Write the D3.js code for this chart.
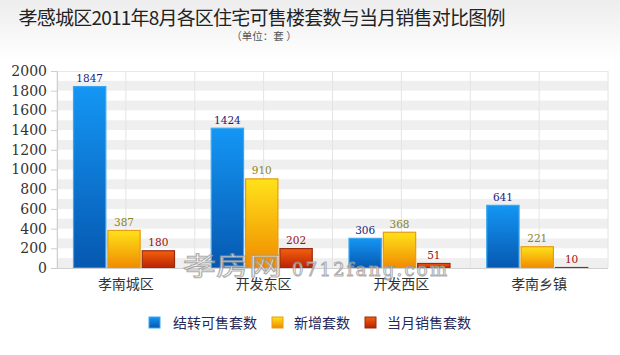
<!DOCTYPE html>
<html><head><meta charset="utf-8">
<script src="https://cdn.jsdelivr.net/npm/d3@7"></script>
<style>html,body{margin:0;padding:0;background:#fff;}svg{display:block;}</style>
</head><body>
<svg id="c" width="620" height="355"></svg>
<script>
const title = "孝感城区2011年8月各区住宅可售楼套数与当月销售对比图例";
const subtitle = "（单位：套 ）";
const categories = ["孝南城区", "开发东区", "开发西区", "孝南乡镇"];
const seriesNames = ["结转可售套数", "新增套数", "当月销售套数"];
const carryOver = [1847, 1424, 306, 641];
const newlyAdded = [387, 910, 368, 221];
const monthSales = [180, 202, 51, 10];
const yTicks = [0, 200, 400, 600, 800, 1000, 1200, 1400, 1600, 1800, 2000];

const seriesValues = [carryOver, newlyAdded, monthSales];
const colors = [
  {top:"#1496f4", bot:"#0658b0", stroke:"#3aa8f0", label:"#1c1c7a"},
  {top:"#ffe21a", bot:"#f08a00", stroke:"#e89a10", label:"#8a8420"},
  {top:"#f4600c", bot:"#b82206", stroke:"#9a2a10", label:"#9a1010"}
];

const svg = d3.select("#c");
const defs = svg.append("defs");
const bg = defs.append("linearGradient").attr("id","bg").attr("x1",0).attr("y1",0).attr("x2",0).attr("y2",1);
bg.append("stop").attr("offset","0%").attr("stop-color","#ededed");
bg.append("stop").attr("offset","100%").attr("stop-color","#ffffff");
colors.forEach((c,i)=>{
  const g = defs.append("linearGradient").attr("id","g"+i).attr("x1",0).attr("y1",0).attr("x2",0).attr("y2",1);
  g.append("stop").attr("offset","0%").attr("stop-color",c.top);
  g.append("stop").attr("offset","100%").attr("stop-color",c.bot);
});
svg.append("rect").attr("x",0).attr("y",0).attr("width",620).attr("height",60).attr("fill","url(#bg)");

const pL = 57, pR = 608, pT = 71, pB = 268;
const y = d3.scaleLinear().domain([0,2000]).range([pB, pT]);
const x0 = d3.scaleBand().domain(categories).range([pL, pR]).paddingInner(0).paddingOuter(0);
const x1 = d3.scaleBand().domain(seriesNames).range([16, 118]).paddingInner(0.03);

// stripes
const stripes = d3.range(0, 2000, 200);
svg.append("g").selectAll("rect").data(stripes).join("rect")
  .attr("x", pL).attr("width", pR-pL)
  .attr("y", d=>y(d+100)).attr("height", d=>y(d)-y(d+100))
  .attr("fill","#efefef");
// vertical gridlines
const vgrid = [];
categories.forEach(c=>{ vgrid.push(x0(c)); vgrid.push(x0(c)+x0.bandwidth()/2); });
vgrid.push(pR);
svg.append("g").selectAll("line").data(vgrid).join("line")
  .attr("x1",d=>d).attr("x2",d=>d).attr("y1",pT).attr("y2",pB)
  .attr("stroke","#e4e4e4").attr("stroke-width",1);
svg.append("line").attr("x1",pL).attr("x2",pR).attr("y1",pT+0.5).attr("y2",pT+0.5).attr("stroke","#e8e8e8");

// y axis
const yAxis = svg.append("g").attr("transform",`translate(${pL},0)`)
  .call(d3.axisLeft(y).tickValues(yTicks).tickSize(6).tickPadding(4).tickFormat(d3.format("d")));
yAxis.select(".domain").attr("stroke","#cfcfcf");
yAxis.selectAll(".tick line").attr("stroke","#cfcfcf");
yAxis.selectAll("text").attr("font-family","'DejaVu Serif', serif").attr("font-size",14).attr("fill","#333");

// bars
const groups = svg.append("g").selectAll("g").data(categories).join("g")
  .attr("transform", d=>`translate(${x0(d)},0)`);
groups.each(function(cat, ci){
  const g = d3.select(this);
  const data = seriesNames.map((s, si)=>({s, si, v: seriesValues[si][ci]}));
  g.selectAll("rect").data(data).join("rect")
    .attr("x", d=>x1(d.s)+0.5).attr("width", x1.bandwidth()-1)
    .attr("y", d=>y(d.v)+0.5).attr("height", d=>Math.max(0, y(0)-y(d.v)-0.5))
    .attr("fill", d=>`url(#g${d.si})`)
    .attr("stroke", d=>colors[d.si].stroke).attr("stroke-width",1.2);
  g.selectAll("text").data(data).join("text")
    .attr("x", d=>x1(d.s)+x1.bandwidth()/2).attr("y", d=>y(d.v)-4)
    .attr("text-anchor","middle")
    .attr("font-family","'DejaVu Serif', serif").attr("font-size",10.5)
    .attr("fill", d=>colors[d.si].label).text(d=>d.v);
});
svg.append("line").attr("x1",pL).attr("x2",pR).attr("y1",pB+0.5).attr("y2",pB+0.5).attr("stroke","#d0d0d0");

// category labels
svg.append("g").selectAll("text").data(categories).join("text")
  .attr("x", d=>x0(d)+x0.bandwidth()/2).attr("y", 289)
  .attr("text-anchor","middle").attr("font-family","'Noto Sans CJK SC', sans-serif")
  .attr("font-size",14).attr("fill","#333").text(d=>d);

// watermark
const wm = svg.append("g").attr("opacity",0.8);
wm.append("text").attr("x",183).attr("y",275).attr("font-family","'Noto Sans CJK SC', sans-serif")
  .attr("font-size",25).attr("textLength",99).attr("lengthAdjust","spacingAndGlyphs")
  .attr("fill","#fff").attr("stroke","#9a9a9a").attr("stroke-width",1).text("孝房网");
wm.append("text").attr("x",292).attr("y",276).attr("font-family","'DejaVu Serif', serif")
  .attr("font-size",18).attr("textLength",155).attr("fill","#fff").attr("stroke","#9a9a9a").attr("stroke-width",1).text("0712fang.com");

// title
svg.append("text").attr("x",262).attr("y",25).attr("text-anchor","middle")
  .attr("font-family","'Noto Sans CJK SC', sans-serif").attr("font-size",19)
  .attr("textLength",487).attr("fill","#222").text(title);
svg.append("text").attr("x",264).attr("y",40).attr("text-anchor","middle")
  .attr("font-family","'Noto Sans CJK SC', sans-serif").attr("font-size",10.5)
  .attr("fill","#555").text(subtitle);

// legend
const legendX = [149, 272, 365];
const lg = svg.append("g").selectAll("g").data(seriesNames).join("g")
  .attr("transform",(d,i)=>`translate(${legendX[i]},317)`);
lg.append("rect").attr("width",11).attr("height",11)
  .attr("fill",(d,i)=>`url(#g${i})`).attr("stroke",(d,i)=>colors[i].stroke).attr("stroke-width",1);
lg.append("text").attr("x",(d,i)=>i===0?24:22).attr("y",10.5)
  .attr("font-family","'Noto Sans CJK SC', sans-serif").attr("font-size",14)
  .attr("fill","#24285a").text(d=>d);
</script>
</body></html>
